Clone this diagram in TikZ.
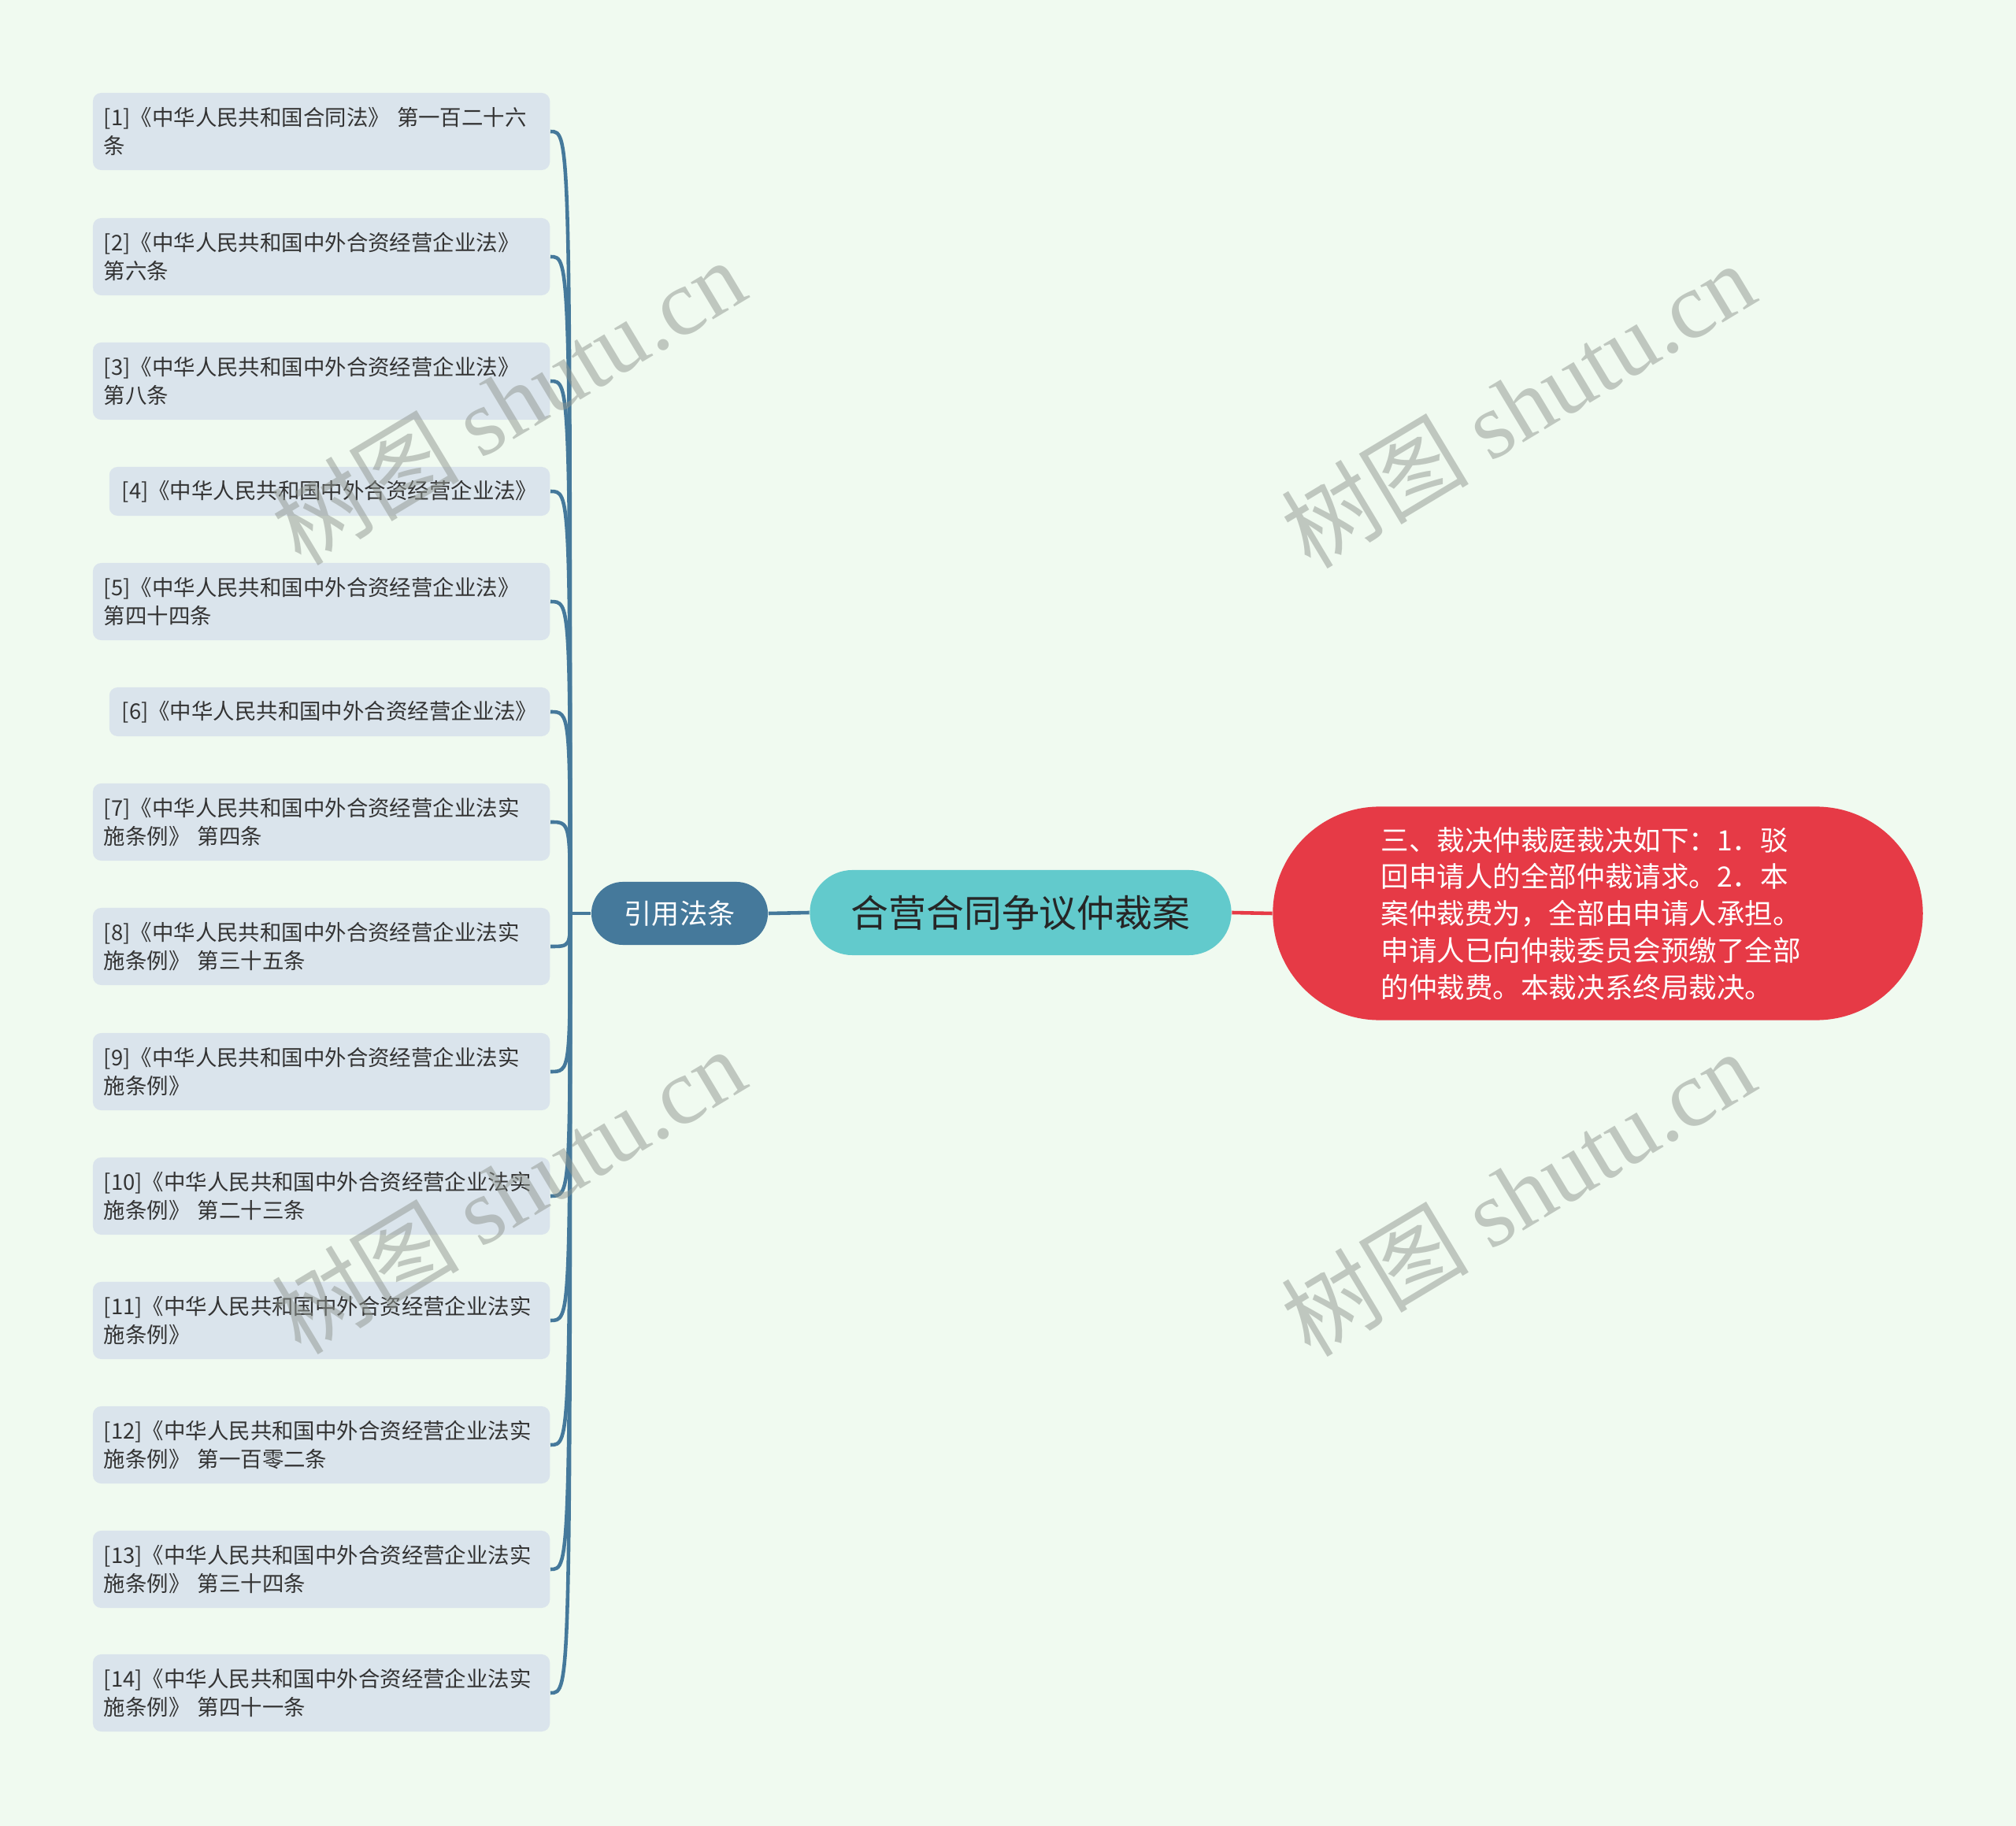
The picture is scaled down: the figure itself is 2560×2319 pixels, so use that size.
\documentclass[tikz,border=0pt]{standalone}
\usepackage{fontspec}
\setmainfont{Noto Sans CJK SC}
\newfontfamily\wmfont{Liberation Serif}
\usetikzlibrary{shapes.misc}

\definecolor{bgc}{HTML}{F0FAF0}
\definecolor{leafc}{HTML}{DAE4EC}
\definecolor{linec}{HTML}{45799B}
\definecolor{topc}{HTML}{62CACC}
\definecolor{redc}{HTML}{E63A46}
\definecolor{wmc}{HTML}{8F968F}

\begin{document}
\begin{tikzpicture}[x=0.01cm,y=-0.01cm,
    leaf/.style={fill=leafc,rounded corners=3pt,anchor=east,align=left,inner xsep=0.14cm,inner ysep=0pt,
      text=black!80,font=\fontsize{7.8}{10.3}\selectfont},
    wide/.style={leaf,text width=5.52cm,minimum height=0.98cm},
    short/.style={leaf,minimum height=0.62cm,inner xsep=0.16cm},
    pill/.style={rounded rectangle,inner xsep=0pt,inner ysep=0pt},
    wm/.style={rotate=31,text=wmc,opacity=0.5,font=\fontsize{34}{40}\selectfont}]
      \fill[bgc] (0,0) rectangle (2560,2319);
      \useasboundingbox (0,0) rectangle (2560,2319);
      \draw
        (1296,1159) node[pill,fill=topc,minimum width=5.35cm,minimum height=1.08cm,text=black!85,
          font=\fontsize{13.6}{18}\selectfont] (c){合营合同争议仲裁案}
        (863,1160) node[pill,fill=linec,minimum width=2.24cm,minimum height=0.8cm,text=white,
          font=\fontsize{10}{12}\selectfont] (t){引用法条}
        (2029,1160) node[pill,fill=redc,minimum width=8.25cm,minimum height=2.71cm,text=white,
          text width=5.5cm,align=left,font=\fontsize{10.1}{13.3}\selectfont] (r){三、裁决仲裁庭裁决如下：1．驳\\回申请人的全部仲裁请求。2．本\\案仲裁费为，全部由申请人承担。\\申请人已向仲裁委员会预缴了全部\\的仲裁费。本裁决系终局裁决。};
      \draw
        (699,167) node[wide] (1){[1]《中华人民共和国合同法》 第一百二十六\\条}
        (699,326) node[wide] (2){[2]《中华人民共和国中外合资经营企业法》\\第六条}
        (699,484) node[wide] (3){[3]《中华人民共和国中外合资经营企业法》\\第八条}
        (699,624) node[short] (4){[4]《中华人民共和国中外合资经营企业法》}
        (699,764) node[wide] (5){[5]《中华人民共和国中外合资经营企业法》\\第四十四条}
        (699,904) node[short] (6){[6]《中华人民共和国中外合资经营企业法》}
        (699,1044) node[wide] (7){[7]《中华人民共和国中外合资经营企业法实\\施条例》 第四条}
        (699,1202) node[wide] (8){[8]《中华人民共和国中外合资经营企业法实\\施条例》 第三十五条}
        (699,1361) node[wide] (9){[9]《中华人民共和国中外合资经营企业法实\\施条例》}
        (699,1519) node[wide] (10){[10]《中华人民共和国中外合资经营企业法实\\施条例》 第二十三条}
        (699,1677) node[wide] (11){[11]《中华人民共和国中外合资经营企业法实\\施条例》}
        (699,1835) node[wide] (12){[12]《中华人民共和国中外合资经营企业法实\\施条例》 第一百零二条}
        (699,1993) node[wide] (13){[13]《中华人民共和国中外合资经营企业法实\\施条例》 第三十四条}
        (699,2150) node[wide] (14){[14]《中华人民共和国中外合资经营企业法实\\施条例》 第四十一条};
      \coordinate (j) at (724,1160);
      \begin{scope}[linec,line width=1.3pt]
        \draw (c.west) -- (t.east);
        \draw (t.west) -- (j);
        \foreach \i in {1,...,14}
          \draw (j) .. controls (j |- \i.east) .. (\i.east);
      \end{scope}
      \draw[redc,line width=1.3pt] (c.east) -- (r.west);
      % watermarks
      \foreach \p in {(645,510),(1927,514),(645,1512),(1927,1515)}
        \node[wm] at \p {树图 {\wmfont shutu.cn}};
    \end{tikzpicture}
\end{document}
